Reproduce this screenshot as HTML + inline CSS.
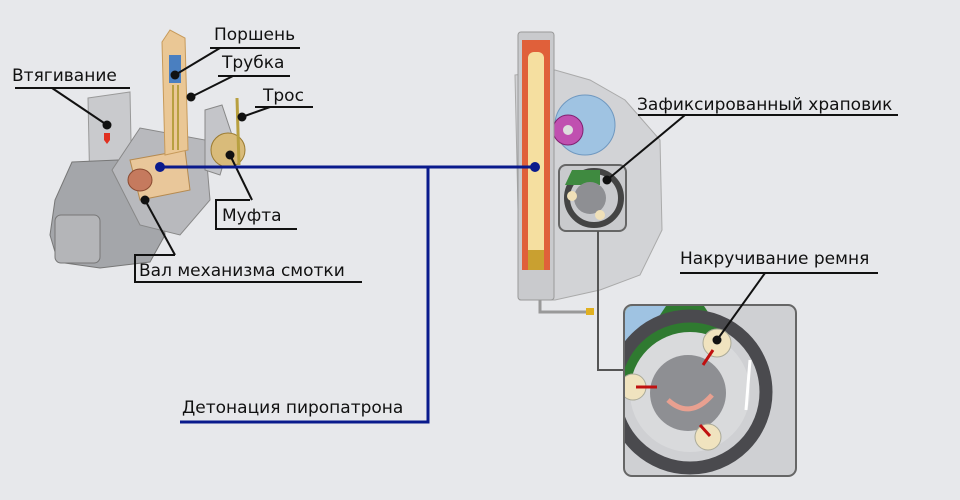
<!DOCTYPE html>
<html><head><meta charset="utf-8"><style>
html,body{margin:0;padding:0;background:#e7e8eb;}
svg{display:block}
text{font-family:"DejaVu Sans","Liberation Sans",sans-serif;font-size:17px;fill:#111;}
</style></head><body>
<svg width="960" height="500" viewBox="0 0 960 500" xmlns="http://www.w3.org/2000/svg">
<defs><clipPath id="bx"><rect x="625" y="306" width="170" height="169" rx="8"/></clipPath></defs>
<rect width="960" height="500" fill="#e7e8eb"/>
<!-- LEFT MECHANISM -->
<polygon points="88,98 130,92 132,190 90,195" fill="#c9cacd" stroke="#999"/>
<path d="M72,162 L118,160 L160,175 L165,235 L150,262 L100,268 L58,262 L50,235 L55,200 Z" fill="#a4a6aa" stroke="#777"/>
<rect x="55" y="215" width="45" height="48" rx="6" fill="#b4b5b8" stroke="#777"/>
<path d="M112,170 L140,128 L205,140 L210,200 L180,235 L140,225 Z" fill="#b8b9bd" stroke="#888"/>
<path d="M130,160 L185,150 L190,190 L140,200 Z" fill="#e9c79a" stroke="#b58a50"/>
<ellipse cx="140" cy="180" rx="12" ry="11" fill="#c57a5e" stroke="#8a4a30"/>
<path d="M162,42 L170,30 L185,38 L188,150 L165,155 Z" fill="#eac795" stroke="#c79a5a"/>
<rect x="169" y="55" width="12" height="28" fill="#4a7fc0"/>
<line x1="173" y1="85" x2="173" y2="150" stroke="#b8a040" stroke-width="2"/>
<line x1="178" y1="85" x2="178" y2="150" stroke="#b8a040" stroke-width="2"/>
<path d="M205,110 L222,105 L232,135 L220,175 L205,170 Z" fill="#c4c5c9" stroke="#888"/>
<circle cx="228" cy="150" r="17" fill="#d9bb7a" stroke="#9a7a30"/>
<line x1="237" y1="98" x2="239" y2="165" stroke="#b8a040" stroke-width="3"/>
<polygon points="104,133 110,133 110,140 107,144 104,140" fill="#e03020"/>
<!-- left labels -->
<text x="214" y="40">Поршень</text>
<line x1="210" y1="48" x2="300" y2="48" stroke="#111" stroke-width="2"/>
<line x1="175" y1="75" x2="220" y2="48" stroke="#111" stroke-width="2"/><circle cx="175" cy="75" r="4.5" fill="#111"/>
<text x="222" y="68">Трубка</text>
<line x1="218" y1="76" x2="290" y2="76" stroke="#111" stroke-width="2"/>
<line x1="191" y1="97" x2="233" y2="76" stroke="#111" stroke-width="2"/><circle cx="191" cy="97" r="4.5" fill="#111"/>
<text x="263" y="101">Трос</text>
<line x1="255" y1="107" x2="313" y2="107" stroke="#111" stroke-width="2"/>
<line x1="242" y1="117" x2="270" y2="107" stroke="#111" stroke-width="2"/><circle cx="242" cy="117" r="4.5" fill="#111"/>
<text x="12" y="81">Втягивание</text>
<line x1="15" y1="88" x2="130" y2="88" stroke="#111" stroke-width="2"/>
<line x1="52" y1="88" x2="107" y2="125" stroke="#111" stroke-width="2"/><circle cx="107" cy="125" r="4.5" fill="#111"/>
<text x="222" y="221">Муфта</text>
<polyline points="250,200 216,200 216,229 297,229" fill="none" stroke="#111" stroke-width="2"/>
<line x1="230" y1="155" x2="252" y2="200" stroke="#111" stroke-width="2"/><circle cx="230" cy="155" r="4.5" fill="#111"/>
<text x="139" y="276">Вал механизма смотки</text>
<polyline points="175,255 135,255 135,282 362,282" fill="none" stroke="#111" stroke-width="2"/>
<line x1="145" y1="200" x2="175" y2="255" stroke="#111" stroke-width="2"/><circle cx="145" cy="200" r="4.5" fill="#111"/>
<!-- RIGHT HOUSING -->
<path d="M515,75 L555,70 L590,80 L625,100 L660,140 L662,230 L640,275 L600,290 L555,300 L520,300 Z" fill="#d2d3d6" stroke="#aaa"/>
<circle cx="585" cy="125" r="30" fill="#9fc3e2" stroke="#6f98c0"/>
<circle cx="568" cy="130" r="15" fill="#c050b0" stroke="#802070"/>
<circle cx="568" cy="130" r="5" fill="#ddd"/>
<rect x="518" y="32" width="36" height="268" rx="3" fill="#c9cacd" stroke="#999"/>
<rect x="522" y="40" width="28" height="230" fill="#e0603a"/>
<rect x="528" y="52" width="16" height="210" rx="6" fill="#f5dfa0"/>
<rect x="528" y="250" width="16" height="20" fill="#c9a030"/>
<path d="M540,300 L540,312 L590,312" fill="none" stroke="#999" stroke-width="3"/>
<rect x="586" y="308" width="8" height="7" fill="#e0b020"/>
<rect x="559" y="165" width="67" height="66" rx="7" fill="#c9cacd" stroke="#666" stroke-width="2"/>
<circle cx="594" cy="198" r="27" fill="none" stroke="#444" stroke-width="6"/>
<path d="M565,185 L572,170 L600,170 L600,185 Z" fill="#3f8a40"/>
<circle cx="590" cy="198" r="16" fill="#8e8f93"/>
<circle cx="572" cy="196" r="5" fill="#f0e0b8"/><circle cx="600" cy="215" r="5" fill="#f0e0b8"/>
<polyline points="598,231 598,370 626,370" fill="none" stroke="#555" stroke-width="2"/>
<!-- Big detail box -->
<rect x="624" y="305" width="172" height="171" rx="8" fill="#cfd0d3" stroke="#666" stroke-width="2"/>
<g clip-path="url(#bx)">
<path d="M620,300 L700,300 L720,330 L690,370 L640,385 L620,380 Z" fill="#2f7a30"/>
<path d="M620,300 L670,300 L650,330 L620,345 Z" fill="#9fc3e2"/>
<circle cx="690" cy="392" r="76" fill="none" stroke="#4a4a4e" stroke-width="13"/>
<circle cx="690" cy="392" r="60" fill="#d9dadc"/>
<circle cx="688" cy="393" r="38" fill="#8e8f93"/>
<circle cx="717" cy="343" r="14" fill="#f0e3bf" stroke="#aa9"/>
<circle cx="633" cy="387" r="13" fill="#f0e3bf" stroke="#aa9"/>
<circle cx="708" cy="437" r="13" fill="#f0e3bf" stroke="#aa9"/>
</g>
<path d="M668,400 Q690,420 712,395" fill="none" stroke="#e8a090" stroke-width="5"/>
<g stroke="#c01010" stroke-width="3"><line x1="713" y1="350" x2="703" y2="365"/><line x1="636" y1="387" x2="657" y2="387"/><line x1="710" y1="436" x2="700" y2="425"/></g>
<line x1="750" y1="360" x2="746" y2="410" stroke="#fff" stroke-width="3"/>
<!-- right labels -->
<text x="637" y="110">Зафиксированный храповик</text>
<line x1="638" y1="115" x2="898" y2="115" stroke="#111" stroke-width="2"/>
<line x1="607" y1="180" x2="685" y2="115" stroke="#111" stroke-width="2"/><circle cx="607" cy="180" r="4.5" fill="#111"/>
<text x="680" y="264">Накручивание ремня</text>
<line x1="680" y1="273" x2="878" y2="273" stroke="#111" stroke-width="2"/>
<line x1="717" y1="340" x2="765" y2="273" stroke="#111" stroke-width="2"/><circle cx="717" cy="340" r="4.5" fill="#111"/>
<!-- blue connector -->
<g stroke="#0a1a8c" stroke-width="3" fill="none">
<line x1="160" y1="167" x2="535" y2="167"/>
<polyline points="428,167 428,422 180,422"/>
</g>
<circle cx="160" cy="167" r="5" fill="#0a1a8c"/><circle cx="535" cy="167" r="5" fill="#0a1a8c"/>
<text x="182" y="413">Детонация пиропатрона</text>
</svg>
</body></html>
